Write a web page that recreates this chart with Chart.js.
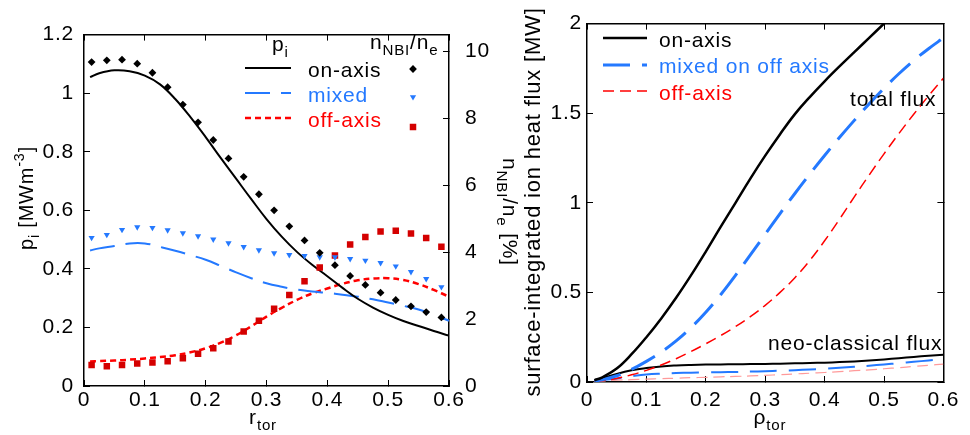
<!DOCTYPE html>
<html>
<head>
<meta charset="utf-8">
<title>ion pressure and ion heat flux</title>
<script src="https://cdn.jsdelivr.net/npm/chart.js@4.4.1/dist/chart.umd.min.js"></script>
<style>
  html, body { margin: 0; padding: 0; background: #fff; }
  #wrap { position: relative; width: 970px; height: 435px; overflow: hidden; }
  canvas { position: absolute; top: 0; }
  #profiles { left: 0; }
  #fluxes { left: 490px; }
</style>
</head>
<body>
<div id="wrap">
  <canvas id="profiles" width="530" height="435" style="width:530px;height:435px"></canvas>
  <canvas id="fluxes" width="480" height="435" style="width:480px;height:435px"></canvas>
</div>
<script>
// left panel: ion pressure (lines) and fast-ion fraction (markers)
const rProfile = [0.01, 0.025, 0.05, 0.075, 0.1, 0.125, 0.15, 0.175, 0.2, 0.225, 0.25, 0.275,
  0.3, 0.325, 0.35, 0.375, 0.4, 0.425, 0.45, 0.475, 0.5, 0.525, 0.55, 0.575, 0.6];
const piOnAxis = [1.055, 1.068, 1.078, 1.075, 1.06, 1.03, 0.98, 0.918, 0.85, 0.778, 0.708, 0.638,
  0.57, 0.51, 0.458, 0.414, 0.375, 0.335, 0.298, 0.268, 0.243, 0.222, 0.205, 0.188, 0.172];
const piMixed = [0.463, 0.47, 0.478, 0.487, 0.487, 0.475, 0.462, 0.447, 0.431, 0.41, 0.388, 0.368,
  0.351, 0.339, 0.329, 0.323, 0.318, 0.312, 0.305, 0.296, 0.285, 0.274, 0.261, 0.243, 0.223];
const piOffAxis = [0.084, 0.085, 0.087, 0.09, 0.094, 0.099, 0.105, 0.115, 0.129, 0.148, 0.173, 0.204,
  0.237, 0.267, 0.294, 0.316, 0.333, 0.349, 0.361, 0.367, 0.368, 0.362, 0.348, 0.328, 0.305];

const rMarkers = [0.0125, 0.0375, 0.0625, 0.0875, 0.1125, 0.1375, 0.1625, 0.1875, 0.2125, 0.2375,
  0.2625, 0.2875, 0.3125, 0.3375, 0.3625, 0.3875, 0.4125, 0.4375, 0.4625, 0.4875, 0.5125, 0.5375,
  0.5625, 0.5875];
const nbiOnAxis = [9.68, 9.73, 9.75, 9.63, 9.36, 8.93, 8.41, 7.88, 7.35, 6.8, 6.25, 5.73,
  5.25, 4.77, 4.35, 3.98, 3.61, 3.29, 3.02, 2.79, 2.57, 2.38, 2.21, 2.05];
const nbiMixed = [4.43, 4.52, 4.67, 4.75, 4.73, 4.66, 4.57, 4.48, 4.38, 4.27, 4.16, 4.06,
  3.97, 3.92, 3.89, 3.85, 3.85, 3.8, 3.75, 3.68, 3.58, 3.41, 3.2, 2.96];
const nbiOffAxis = [0.63, 0.59, 0.63, 0.67, 0.7, 0.74, 0.83, 0.96, 1.13, 1.33, 1.63, 1.95,
  2.31, 2.72, 3.13, 3.54, 3.9, 4.23, 4.45, 4.62, 4.64, 4.56, 4.42, 4.16];

// right panel: surface-integrated ion heat flux
const rFlux = [0.0125, 0.025, 0.05, 0.075, 0.1, 0.125, 0.15, 0.175, 0.2, 0.225, 0.25, 0.275,
  0.3, 0.325, 0.35, 0.375, 0.4, 0.425, 0.45, 0.475, 0.5, 0.525, 0.55, 0.575, 0.6];
const totalOnAxis = [0.01, 0.025, 0.075, 0.155, 0.25, 0.355, 0.47, 0.595, 0.728, 0.866, 1.0, 1.135,
  1.263, 1.383, 1.495, 1.59, 1.678, 1.761, 1.841, 1.92, 2.0, 2.08, 2.16, 2.24, 2.32];
const totalMixed = [0.005, 0.012, 0.035, 0.07, 0.115, 0.167, 0.229, 0.303, 0.389, 0.487, 0.595, 0.709,
  0.825, 0.94, 1.052, 1.16, 1.264, 1.364, 1.46, 1.552, 1.639, 1.72, 1.794, 1.86, 1.92];
const totalOffAxis = [0.003, 0.007, 0.02, 0.04, 0.065, 0.095, 0.13, 0.17, 0.213, 0.259, 0.309, 0.365,
  0.428, 0.5, 0.582, 0.678, 0.788, 0.908, 1.033, 1.155, 1.273, 1.386, 1.494, 1.597, 1.695];
const neoOnAxis = [0.01, 0.02, 0.045, 0.065, 0.078, 0.087, 0.092, 0.095, 0.097, 0.098, 0.099, 0.1,
  0.101, 0.102, 0.104, 0.106, 0.108, 0.111, 0.115, 0.12, 0.126, 0.133, 0.14, 0.146, 0.152];
const neoMixed = [0.005, 0.01, 0.02, 0.032, 0.042, 0.047, 0.05, 0.052, 0.054, 0.055, 0.056, 0.058,
  0.06, 0.063, 0.066, 0.07, 0.074, 0.079, 0.085, 0.091, 0.098, 0.105, 0.113, 0.12, 0.128];
const neoOffAxis = [0.002, 0.005, 0.01, 0.013, 0.016, 0.019, 0.021, 0.024, 0.026, 0.029, 0.031, 0.034,
  0.037, 0.041, 0.045, 0.049, 0.053, 0.058, 0.063, 0.068, 0.074, 0.08, 0.087, 0.093, 0.1];

const FONT = '"Liberation Sans", Arial, Helvetica, sans-serif';
const SPACING = '0.8px';
const BLUE = '#2479ff';
const RED = '#ff0000';
const DARKRED = '#d40000';

Chart.defaults.font.family = FONT;
Chart.defaults.font.size = 21;
Chart.defaults.color = '#000';

function points(xs, ys) {
  return xs.map((x, i) => ({ x: x, y: ys[i] }));
}

function tickLabel(v) {
  return String(Number(v.toFixed(2)));
}

// text with sub/superscripts, anchored on the baseline
function drawRich(ctx, parts, x, y, size, align, rotation, color) {
  ctx.save();
  ctx.translate(x, y);
  if (rotation) ctx.rotate(rotation);
  ctx.letterSpacing = SPACING;
  ctx.fillStyle = color || '#000';
  ctx.textAlign = 'left';
  ctx.textBaseline = 'alphabetic';
  let w = 0;
  parts.forEach(p => {
    ctx.font = ((p.sub || p.sup) ? size * 0.72 : size) + 'px ' + FONT;
    w += ctx.measureText(p.t).width;
  });
  let cx = align === 'center' ? -w / 2 : align === 'right' ? -w : 0;
  parts.forEach(p => {
    ctx.font = ((p.sub || p.sup) ? size * 0.72 : size) + 'px ' + FONT;
    const dy = p.sub ? size * 0.3 : p.sup ? -size * 0.42 : 0;
    ctx.fillText(p.t, cx, dy);
    cx += ctx.measureText(p.t).width;
  });
  ctx.restore();
}

function keyLine(ctx, ds, x1, x2, y) {
  ctx.save();
  ctx.strokeStyle = ds.borderColor;
  ctx.lineWidth = ds.borderWidth;
  ctx.setLineDash(ds.borderDash || []);
  ctx.beginPath();
  ctx.moveTo(x1, y);
  ctx.lineTo(x2, y);
  ctx.stroke();
  ctx.restore();
}

// one side of the box: black border, short ticks pointing inwards
function frameAxis(position, min, max, step, size, padding, showLabels) {
  const horizontal = position === 'top' || position === 'bottom';
  return {
    type: 'linear',
    position: position,
    min: min,
    max: max,
    ticks: {
      display: showLabels,
      stepSize: step,
      padding: padding,
      includeBounds: false,
      autoSkip: false,
      maxRotation: 0,
      callback: tickLabel
    },
    grid: { drawOnChartArea: false, tickLength: -6, color: '#000', lineWidth: 1 },
    border: { color: '#000', width: 1.5 },
    afterFit: horizontal ? s => { s.height = size; } : s => { s.width = size; }
  };
}

const spacingPlugin = {
  id: 'spacing',
  beforeDraw(chart) {
    chart.ctx.letterSpacing = SPACING;
  }
};

function line(label, xs, ys, color, width, dash) {
  return {
    label: label,
    data: points(xs, ys),
    showLine: true,
    borderColor: color,
    borderWidth: width,
    borderDash: dash,
    pointRadius: 0,
    tension: 0.4,
    order: 1
  };
}

function markers(label, xs, ys, color, style, radius, rotation) {
  return {
    label: label,
    data: points(xs, ys),
    yAxisID: 'y2',
    showLine: false,
    pointStyle: style,
    pointRadius: radius,
    pointRotation: rotation,
    pointBackgroundColor: color,
    pointBorderColor: color,
    pointBorderWidth: 0,
    order: 0
  };
}

const profileKey = {
  id: 'profileKey',
  afterDraw(chart) {
    const ctx = chart.ctx;
    const ds = chart.data.datasets;
    drawRich(ctx, [{ t: 'p' }, { t: 'i', sub: true }], 272, 51, 21, 'left');
    drawRich(ctx, [{ t: 'n' }, { t: 'NBI', sub: true }, { t: '/n' }, { t: 'e', sub: true }], 370, 48.5, 21, 'left');
    const lineY = [68, 93, 118];
    const textY = [76.5, 101.5, 126.5];
    const markY = [69, 97, 127];
    const names = ['on-axis', 'mixed', 'off-axis'];
    for (let i = 0; i < 3; i++) {
      keyLine(ctx, ds[i], 245, 291, lineY[i]);
      drawRich(ctx, [{ t: names[i] }], 308, textY[i], 21, 'left', 0, ds[i].borderColor);
      const m = ds[i + 3];
      ctx.save();
      ctx.fillStyle = m.pointBackgroundColor;
      ctx.strokeStyle = m.pointBorderColor;
      Chart.helpers.drawPoint(ctx, {
        pointStyle: m.pointStyle, radius: m.pointRadius, rotation: m.pointRotation, borderWidth: 0
      }, 413, markY[i]);
      ctx.restore();
    }
    // axis titles
    drawRich(ctx, [{ t: 'p' }, { t: 'i', sub: true }, { t: ' [MWm' }, { t: '-3', sup: true }, { t: ']' }],
      32.5, 198, 20, 'center', -Math.PI / 2);
    drawRich(ctx, [{ t: 'n' }, { t: 'NBI', sub: true }, { t: '/n' }, { t: 'e', sub: true }, { t: ' [%]' }],
      503, 212, 21, 'center', Math.PI / 2);
    drawRich(ctx, [{ t: 'r' }, { t: 'tor', sub: true }], 263, 424, 21, 'center');
  }
};

const fluxKey = {
  id: 'fluxKey',
  afterDraw(chart) {
    const ctx = chart.ctx;
    const ds = chart.data.datasets;
    const lineY = [38, 65, 91];
    const textY = [46.5, 73, 99.5];
    const names = ['on-axis', 'mixed on off axis', 'off-axis'];
    for (let i = 0; i < 3; i++) {
      keyLine(ctx, ds[i], 113, 157, lineY[i]);
      drawRich(ctx, [{ t: names[i] }], 169, textY[i], 21, 'left', 0, ds[i].borderColor);
    }
    drawRich(ctx, [{ t: 'total flux' }], 360, 106, 21, 'left');
    drawRich(ctx, [{ t: 'neo-classical flux' }], 278, 350, 21, 'left');
    drawRich(ctx, [{ t: 'surface-integrated ion heat flux [MW]' }], 50, 202, 22, 'center', -Math.PI / 2);
    drawRich(ctx, [{ t: 'ρ' }, { t: 'tor', sub: true }], 280, 424, 21, 'center');
  }
};

new Chart(document.getElementById('profiles'), {
  type: 'scatter',
  data: {
    datasets: [
      line('p_i on-axis', rProfile, piOnAxis, '#000', 2, []),
      line('p_i mixed', rProfile, piMixed, BLUE, 2, [25, 11]),
      line('p_i off-axis', rProfile, piOffAxis, RED, 2.5, [6, 4]),
      markers('n_NBI/n_e on-axis', rMarkers, nbiOnAxis, '#000', 'rectRot', 3.9, 0),
      markers('n_NBI/n_e mixed', rMarkers, nbiMixed, BLUE, 'triangle', 3.6, 180),
      markers('n_NBI/n_e off-axis', rMarkers, nbiOffAxis, DARKRED, 'rect', 4.6, 0)
    ]
  },
  options: {
    responsive: false,
    animation: false,
    events: [],
    layout: { padding: 0 },
    plugins: { legend: { display: false }, tooltip: { enabled: false } },
    scales: {
      x: frameAxis('bottom', 0, 0.6, 0.1, 49, 8, true),
      x2: frameAxis('top', 0, 0.6, 0.1, 21, 0, false),
      y: frameAxis('left', 0, 1.2, 0.2, 84, 16, true),
      y2: frameAxis('right', 0, 10.5, 2, 81, 22, true)
    }
  },
  plugins: [spacingPlugin, profileKey]
});

new Chart(document.getElementById('fluxes'), {
  type: 'scatter',
  data: {
    datasets: [
      line('total on-axis', rFlux, totalOnAxis, '#000', 2.5, []),
      line('total mixed on off axis', rFlux, totalMixed, BLUE, 3, [27, 12]),
      line('total off-axis', rFlux, totalOffAxis, RED, 1.5, [11, 6]),
      line('neo-classical on-axis', rFlux, neoOnAxis, '#000', 2, []),
      line('neo-classical mixed on off axis', rFlux, neoMixed, BLUE, 2, [27, 12]),
      line('neo-classical off-axis', rFlux, neoOffAxis, '#ff9a9a', 1.2, [11, 6])
    ]
  },
  options: {
    responsive: false,
    animation: false,
    events: [],
    layout: { padding: 0 },
    plugins: { legend: { display: false }, tooltip: { enabled: false } },
    scales: {
      x: frameAxis('bottom', 0, 0.6, 0.1, 53, 12, true),
      x2: frameAxis('top', 0, 0.6, 0.1, 16, 0, false),
      y: frameAxis('left', 0, 2, 0.5, 97, 11, true),
      y2: frameAxis('right', 0, 2, 0.5, 18, 0, false)
    }
  },
  plugins: [spacingPlugin, fluxKey]
});
</script>
</body>
</html>
